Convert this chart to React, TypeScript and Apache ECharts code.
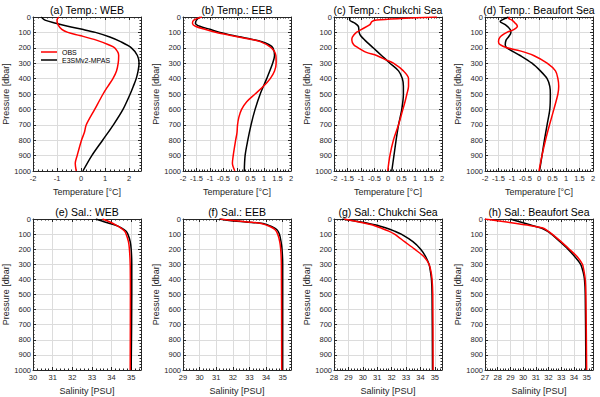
import React, { useEffect, useRef } from 'react';
import * as echarts from 'echarts';

// ---------- Data ----------
// (a) Temperature: WEB
const webTempObsP = [0, 20, 50, 80, 100, 120, 150, 180, 200, 250, 300, 350, 400, 450, 500, 600, 700, 750, 800, 900, 950, 1000];
const webTempObsV = [-0.92, -1.0, -0.96, -0.8, -0.55, -0.05, 0.64, 1.15, 1.4, 1.57, 1.55, 1.48, 1.33, 1.12, 0.92, 0.57, 0.22, 0.14, 0.02, -0.16, -0.24, -0.2];
const webTempModP = [0, 20, 40, 60, 80, 100, 130, 160, 200, 250, 300, 350, 400, 450, 500, 600, 700, 800, 900, 1000];
const webTempModV = [-1.66, -1.5, -1.05, -0.55, 0.05, 0.6, 1.2, 1.65, 2.1, 2.35, 2.42, 2.38, 2.3, 2.18, 2.05, 1.75, 1.35, 0.9, 0.45, 0.08];

// (b) Temperature: EEB
const eebTempObsP = [0, 20, 40, 60, 80, 100, 120, 140, 160, 200, 250, 300, 350, 400, 450, 500, 550, 600, 650, 700, 750, 800, 900, 950, 1000];
const eebTempObsV = [-1.3, -1.6, -1.65, -1.54, -1.19, -0.76, -0.22, 0.34, 0.86, 1.27, 1.44, 1.45, 1.39, 1.23, 0.98, 0.67, 0.36, 0.17, 0.07, 0.02, 0, -0.05, -0.14, -0.17, -0.08];
const eebTempModP = [0, 20, 40, 60, 80, 100, 120, 140, 160, 180, 200, 250, 300, 400, 500, 600, 700, 800, 900, 1000];
const eebTempModV = [-1.38, -1.5, -1.54, -1.38, -1.0, -0.63, -0.14, 0.42, 0.92, 1.19, 1.33, 1.39, 1.32, 1.1, 0.86, 0.67, 0.52, 0.4, 0.3, 0.27];

// (c) Temperature: Chukchi Sea
const chuTempObsP = [0, 10, 20, 30, 50, 80, 100, 130, 150, 180, 200, 230, 250, 280, 300, 350, 400, 450, 500, 550, 600, 700, 800, 900, 1000];
const chuTempObsV = [1.81, 0.45, -0.42, -0.6, -0.67, -0.98, -1.17, -1.32, -1.34, -1.27, -1.1, -0.8, -0.42, -0.05, 0.2, 0.57, 0.76, 0.76, 0.7, 0.63, 0.55, 0.39, 0.2, 0.07, -0.01];
const chuTempModP = [0, 20, 40, 60, 80, 100, 120, 150, 200, 250, 300, 350, 400, 450, 500, 600, 700, 800, 900, 1000];
const chuTempModV = [-1.42, -1.42, -1.23, -1.1, -1.08, -1.07, -1.02, -0.86, -0.55, -0.24, 0.07, 0.39, 0.53, 0.57, 0.57, 0.51, 0.39, 0.3, 0.22, 0.14];

// (d) Temperature: Beaufort Sea
const beaTempObsP = [0, 10, 20, 40, 60, 80, 100, 130, 160, 180, 200, 220, 250, 300, 350, 400, 450, 500, 600, 700, 800, 900, 1000];
const beaTempObsV = [-1.07, -1.13, -1.0, -0.88, -0.8, -0.92, -1.19, -1.44, -1.5, -1.44, -1.19, -0.7, -0.2, 0.3, 0.61, 0.7, 0.73, 0.7, 0.55, 0.39, 0.24, 0.11, 0];
const beaTempModP = [0, 20, 30, 50, 80, 100, 130, 150, 180, 200, 250, 300, 350, 400, 450, 500, 600, 700, 800, 900, 1000];
const beaTempModV = [-1.13, -1.38, -1.44, -1.25, -1.07, -1.04, -1.13, -1.22, -1.25, -1.19, -0.7, -0.26, 0.05, 0.3, 0.4, 0.42, 0.4, 0.3, 0.2, 0.11, 0.02];

// (e) Salinity: WEB
const webSalObsP = [0, 20, 40, 60, 80, 100, 150, 200, 300, 500, 1000];
const webSalObsV = [33.54, 33.92, 34.23, 34.48, 34.66, 34.74, 34.86, 34.91, 34.95, 34.96, 34.95];
const webSalModP = [0, 20, 40, 60, 80, 100, 150, 200, 300, 500, 1000];
const webSalModV = [33.2, 33.66, 34.18, 34.52, 34.73, 34.83, 34.95, 35.0, 35.03, 35.03, 35.0];

// (f) Salinity: EEB
const eebSalObsP = [0, 10, 20, 30, 50, 70, 100, 150, 200, 300, 1000];
const eebSalObsV = [31.25, 31.97, 32.9, 33.71, 34.23, 34.53, 34.7, 34.82, 34.88, 34.92, 34.94];
const eebSalModP = [0, 10, 20, 30, 50, 70, 100, 150, 200, 300, 1000];
const eebSalModV = [31.19, 31.77, 32.79, 33.82, 34.33, 34.64, 34.8, 34.9, 34.96, 35.0, 35.0];

// (g) Salinity: Chukchi Sea
const chuSalObsP = [0, 20, 40, 60, 80, 100, 150, 200, 250, 300, 350, 400, 500, 1000];
const chuSalObsV = [28.7, 29.75, 30.68, 31.27, 31.8, 32.2, 32.9, 33.6, 34.25, 34.6, 34.74, 34.81, 34.86, 34.88];
const chuSalModP = [0, 20, 40, 60, 80, 100, 150, 200, 250, 300, 350, 400, 500, 1000];
const chuSalModV = [28.58, 29.87, 30.92, 31.62, 32.2, 32.67, 33.48, 34.02, 34.37, 34.6, 34.7, 34.77, 34.81, 34.84];

// (h) Salinity: Beaufort Sea
const beaSalObsP = [0, 20, 40, 60, 80, 100, 150, 200, 250, 300, 350, 400, 500, 1000];
const beaSalObsV = [27.0, 28.71, 30.33, 31.55, 31.96, 32.28, 32.99, 33.64, 34.26, 34.67, 34.8, 34.89, 34.94, 35.0];
const beaSalModP = [0, 20, 40, 60, 80, 100, 150, 200, 250, 300, 350, 400, 500, 1000];
const beaSalModV = [28.98, 29.79, 30.6, 31.42, 31.9, 32.23, 32.9, 33.53, 34.07, 34.53, 34.72, 34.83, 34.89, 34.94];

const panelTitles = [
  '(a) Temp.: WEB', '(b) Temp.: EEB', '(c) Temp.: Chukchi Sea', '(d) Temp.: Beaufort Sea',
  '(e) Sal.: WEB', '(f) Sal.: EEB', '(g) Sal.: Chukchi Sea', '(h) Sal.: Beaufort Sea',
];
const xNames = ['Temperature [°C]', 'Salinity [PSU]'];
const yName = 'Pressure [dbar]';
const seriesNames = ['OBS', 'E3SMv2-MPAS'];
const seriesColors = ['#ff0000', '#000000'];

// x-axis ranges: [min, max, interval]
const xRanges = [
  [-2, 2.5, 1], [-2, 2, 0.5], [-2, 2, 0.5], [-2, 2, 0.5],
  [30, 35.5, 1], [29, 35.5, 1], [28, 35.5, 1], [27, 35.5, 1],
];
const pMin = 0, pMax = 1000, pStep = 100;

const obsData = [
  [webTempObsP, webTempObsV], [eebTempObsP, eebTempObsV], [chuTempObsP, chuTempObsV], [beaTempObsP, beaTempObsV],
  [webSalObsP, webSalObsV], [eebSalObsP, eebSalObsV], [chuSalObsP, chuSalObsV], [beaSalObsP, beaSalObsV],
];
const modData = [
  [webTempModP, webTempModV], [eebTempModP, eebTempModV], [chuTempModP, chuTempModV], [beaTempModP, beaTempModV],
  [webSalModP, webSalModV], [eebSalModP, eebSalModV], [chuSalModP, chuSalModV], [beaSalModP, beaSalModV],
];

// ---------- Layout ----------
const colLeft = [33, 183, 334, 485];
const plotW = 108;
const rowTop = [17, 219];
const rowH = [154, 151];
const FONT = 'Liberation Sans, Arial, Helvetica, sans-serif';
const AX = '#262626';

export default function App() {
  const ref = useRef<HTMLDivElement>(null);

  useEffect(() => {
    if (!ref.current) return;
    const chart = echarts.init(ref.current, null, { renderer: 'svg' });

    const grids: any[] = [];
    const xAxes: any[] = [];
    const yAxes: any[] = [];
    const series: any[] = [];
    const graphics: any[] = [];

    for (let i = 0; i < 8; i++) {
      const row = Math.floor(i / 4);
      const col = i % 4;
      const left = colLeft[col];
      const top = rowTop[row];
      const h = rowH[row];
      grids.push({ left, top, width: plotW, height: h, containLabel: false, show: false });

      const [xmin, xmax, xint] = xRanges[i];
      const isHalf = xint === 0.5;
      const common = {
        type: 'value',
        gridIndex: i,
        min: xmin,
        max: xmax,
        interval: xint,
        axisLine: { show: true, onZero: false, lineStyle: { color: AX, width: 1 } },
        axisTick: { show: true, inside: true, length: 3, lineStyle: { color: AX } },
        minorTick: { show: true, splitNumber: 5, length: 1.5, lineStyle: { color: AX } },
      };
      xAxes.push({
        ...common,
        position: 'bottom',
        name: xNames[row],
        nameLocation: 'middle',
        nameGap: 16,
        nameTextStyle: { fontSize: 9, color: AX, fontFamily: FONT },
        axisLabel: {
          show: true, fontSize: 7.5, color: AX, fontFamily: FONT, margin: 3,
          formatter: (v: number) => (isHalf ? String(v) : Number.isInteger(v) ? String(v) : ''),
        },
        splitLine: { show: true, lineStyle: { color: '#dcdcdc', width: 1 } },
      });
      xAxes.push({
        ...common,
        position: 'top',
        axisLabel: { show: false },
        splitLine: { show: false },
      });

      const ycommon = {
        type: 'value',
        gridIndex: i,
        min: pMin,
        max: pMax,
        interval: pStep,
        inverse: true,
        axisLine: { show: true, onZero: false, lineStyle: { color: AX, width: 1 } },
        axisTick: { show: true, inside: true, length: 3, lineStyle: { color: AX } },
        minorTick: { show: true, splitNumber: 5, length: 1.5, lineStyle: { color: AX } },
      };
      yAxes.push({
        ...ycommon,
        position: 'left',
        name: yName,
        nameLocation: 'middle',
        nameGap: 23,
        nameRotate: 90,
        nameTextStyle: { fontSize: 9, color: AX, fontFamily: FONT },
        axisLabel: {
          show: true, fontSize: 7.5, color: AX, fontFamily: FONT, margin: 2,
          formatter: (v: number) => String(v),
        },
        splitLine: { show: true, lineStyle: { color: '#dcdcdc', width: 1 } },
      });
      yAxes.push({
        ...ycommon,
        position: 'right',
        axisLabel: { show: false },
        splitLine: { show: false },
      });

      const sets = [obsData[i], modData[i]];
      sets.forEach(([P, V], k) => {
        series.push({
          type: 'line',
          name: seriesNames[k],
          xAxisIndex: 2 * i,
          yAxisIndex: 2 * i,
          data: P.map((p, j) => [V[j], p]),
          symbol: 'none',
          showSymbol: false,
          smooth: 0.3,
          clip: true,
          z: k === 0 ? 3 : 2,
          lineStyle: { color: seriesColors[k], width: 1.5 },
          itemStyle: { color: seriesColors[k] },
        });
      });

      graphics.push({
        type: 'text',
        x: left + plotW / 2,
        y: top - 7,
        style: {
          text: panelTitles[i],
          fontSize: 10.5,
          fontFamily: FONT,
          fill: '#000',
          align: 'center',
          verticalAlign: 'middle',
          textAlign: 'center',
          textVerticalAlign: 'middle',
        },
      });
    }

    chart.setOption({
      animation: false,
      backgroundColor: '#ffffff',
      grid: grids,
      xAxis: xAxes,
      yAxis: yAxes,
      series,
      graphic: graphics,
      legend: {
        data: seriesNames.map((n) => ({ name: n, icon: 'rect' })),
        orient: 'vertical',
        left: 41,
        top: 48,
        itemWidth: 16,
        itemHeight: 1.5,
        itemGap: 0,
        padding: 0,
        textStyle: { fontSize: 7, lineHeight: 8, color: '#000', fontFamily: FONT },
      },
    });

    return () => chart.dispose();
  }, []);

  return <div ref={ref} style={{ position: 'absolute', left: 0, top: 0, width: 600, height: 397 }} />;
}
